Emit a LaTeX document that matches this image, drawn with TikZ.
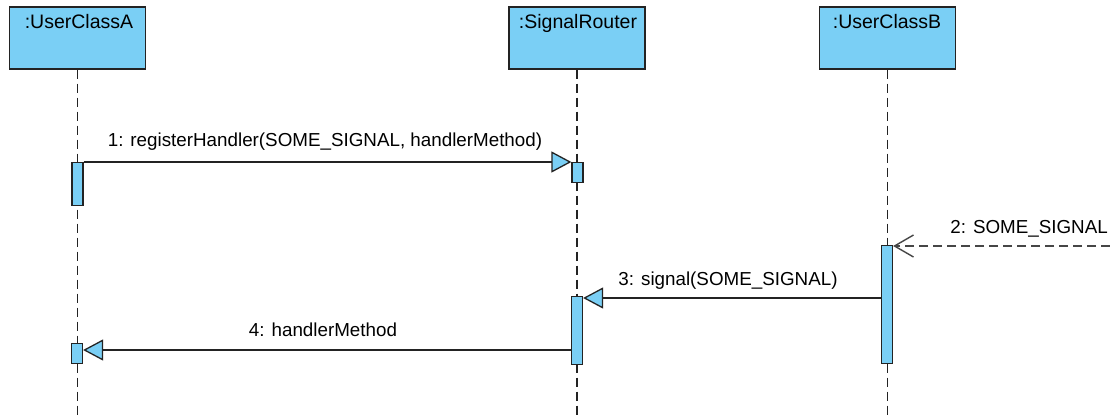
\documentclass[tikz,border=0pt]{standalone}
\usepackage{fontspec}
\setmainfont{Liberation Sans}
\usetikzlibrary{arrows.meta}
\definecolor{ublue}{RGB}{122,207,245}
\definecolor{uline}{RGB}{35,35,35}
\definecolor{udash}{RGB}{70,70,70}
\begin{document}
\begin{tikzpicture}[x=1pt,y=-1pt,
  font=\fontsize{18.8}{22}\selectfont,
  objbox/.style={draw=uline, fill=ublue, line width=1.5pt, minimum width=136pt, minimum height=62pt, inner sep=0pt, anchor=north},
  actbar/.style={draw=uline, fill=ublue, line width=1.2pt, minimum width=11pt, inner sep=0pt, anchor=north},
  lifeline/.style={draw=uline, line width=1.3pt, dash pattern=on 9pt off 5pt},
  msg/.style={draw=uline, line width=1.3pt, line join=miter, -{Triangle[length=20pt,width=21pt,fill=ublue,line join=miter]}},
  asyncmsg/.style={draw=udash, line width=1.4pt, dash pattern=on 9pt off 5pt, -{Straight Barb[length=19pt,width=22pt,line width=1.4pt]}},
  lbl/.style={anchor=base, inner sep=0pt},
  boxlbl/.style={anchor=base, inner sep=0pt, font=\fontsize{19.5}{22}\selectfont}
]
\fill[white] (0,0) rectangle (1110,418);
\useasboundingbox (0,0) rectangle (1110,418);

% object boxes
\node[objbox] (A) at (77.5,6) {};
\node[objbox] (R) at (577,6) {};
\node[objbox] (B) at (887.5,6) {};
\node[boxlbl] (Alab) at (79,28) {:UserClassA};
\node[boxlbl] (Rlab) at (578,28) {:SignalRouter};
\node[boxlbl] (Blab) at (887,28) {:UserClassB};

% lifelines
\coordinate (bottom) at (0,418);
\draw[lifeline] (A.south) -- (A.south |- bottom);
\draw[lifeline] (R.south) -- (R.south |- bottom);
\draw[lifeline] (B.south) -- (B.south |- bottom);

% activation bars
\node[actbar, minimum height=43pt] (a1) at (77.5,162) {};
\node[actbar, minimum height=20pt] (r1) at (577.5,162) {};
\node[actbar, minimum height=118pt] (b1) at (887,245) {};
\node[actbar, minimum height=68pt] (r2) at (577,296) {};
\node[actbar, minimum height=20pt] (a2) at (77,343) {};

% message 1
\draw[msg] (a1.north east) -- (r1.north west);
\node[lbl] (m1) at (325,146) {1: registerHandler(SOME\_SIGNAL, handlerMethod)};

% message 2
\coordinate (src2) at (1110,246);
\draw[asyncmsg] (src2) -- (b1.east |- src2);
\node[lbl, anchor=base east] (m2) at (1108,233) {2: SOME\_SIGNAL};

% message 3
\coordinate (y3) at (0,298);
\draw[msg] (b1.west |- y3) -- (r2.east |- y3);
\node[lbl] (m3) at (728,285) {3: signal(SOME\_SIGNAL)};

% message 4
\coordinate (y4) at (0,350);
\draw[msg] (r2.west |- y4) -- (a2.east |- y4);
\node[lbl] (m4) at (323,336) {4: handlerMethod};
\end{tikzpicture}
\end{document}
